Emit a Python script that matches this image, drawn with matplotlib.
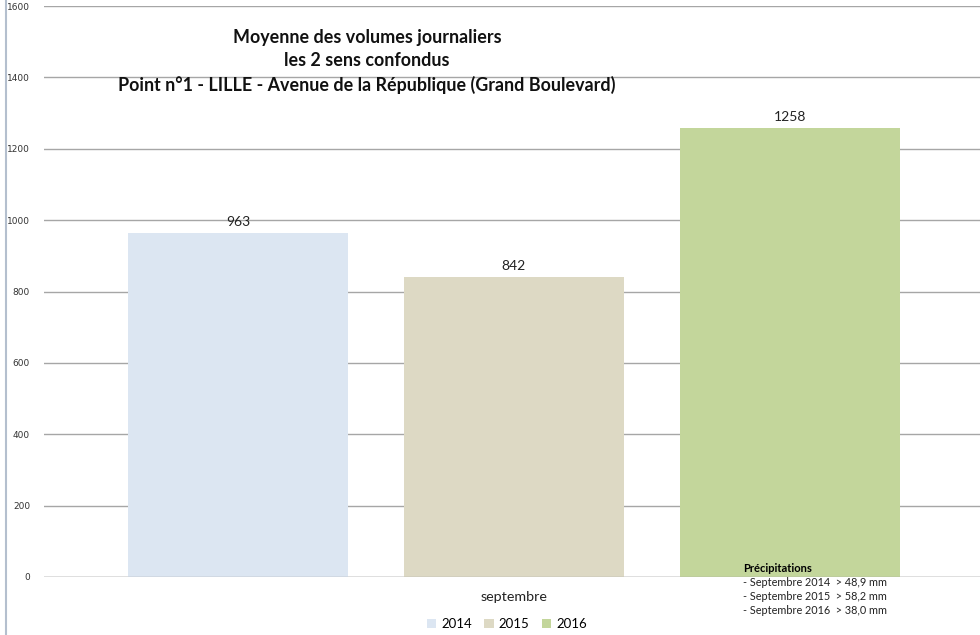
import numpy as np
import matplotlib
matplotlib.use("Agg")
from matplotlib import pyplot as plt
from matplotlib.lines import Line2D
from matplotlib.patches import Patch

plt.rcParams['font.family'] = ['Lato', 'DejaVu Sans']

years = ["2014", "2015", "2016"]
values = [963, 842, 1258]
colors = ["#dce6f2", "#ddd9c4", "#c3d69b"]
category = "septembre"
yticks = [0, 200, 400, 600, 800, 1000, 1200, 1400, 1600]
title_lines = ["Moyenne des volumes journaliers",
               "les 2 sens confondus",
               "Point n°1 - LILLE - Avenue de la République (Grand Boulevard)"]
precip_title = "Précipitations"
precip_lines = ["- Septembre 2014  > 48,9 mm",
                "- Septembre 2015  > 58,2 mm",
                "- Septembre 2016  > 38,0 mm"]

W, H = 980, 635
fig = plt.figure(figsize=(W / 100, H / 100), dpi=100)
# plot area in pixels: x 44..984, y 6..577
ax = fig.add_axes([44 / W, 1 - 577 / H, 940 / W, 571 / H])

bar_w = 0.234
step = 0.2936
offsets = (np.arange(len(values)) - 1) * step
for off, v, c in zip(offsets, values, colors):
    ax.bar(off, v, width=bar_w, color=c, zorder=2)
    ax.text(off, v + 14, str(v), ha='center', va='bottom', fontsize=10, color='#222222')

ax.set_xlim(-0.5, 0.5)
ax.set_ylim(0, 1600)
ax.set_yticks(yticks)
ax.set_yticklabels([str(t) for t in yticks], fontsize=6.5, color='#333333',
                   family=['DejaVu Sans'])
ax.set_xticks([])
ax.yaxis.grid(True, color='#a6a6a6', linewidth=1, zorder=0)
ax.tick_params(axis='y', length=0, pad=10)
for s in ax.spines.values():
    s.set_visible(False)
ax.axhline(0, color='#a6a6a6', linewidth=1, zorder=3)

# title
for i, line in enumerate(title_lines):
    fig.text(367 / W, 1 - (37 + 24 * i) / H, line, ha='center', va='center',
             fontsize=12.9, fontweight='bold', color='#111111')

# category label
fig.text(514 / W, 1 - 597 / H, category, ha='center', va='center', fontsize=10.3, color='#222222')

# legend
handles = [Patch(facecolor=c, edgecolor='none') for c in colors]
fig.legend(handles, years, loc='center', bbox_to_anchor=(507 / W, 1 - 624 / H), ncol=3,
           frameon=False, fontsize=9.5, handlelength=0.7, handleheight=0.7,
           handletextpad=0.4, columnspacing=0.9)

# precipitation note
fig.text(743 / W, 1 - 569 / H, precip_title, ha='left', va='center', fontsize=8, fontweight='bold')
for i, line in enumerate(precip_lines):
    fig.text(743 / W, 1 - (583 + 14 * i) / H, line, ha='left', va='center', fontsize=7.8, color='#222222')

# left border of chart area
fig.add_artist(Line2D([5.5 / W, 5.5 / W], [0, 1], color='#b4bfce', linewidth=1.5))

fig.savefig("out.png", dpi=100)
